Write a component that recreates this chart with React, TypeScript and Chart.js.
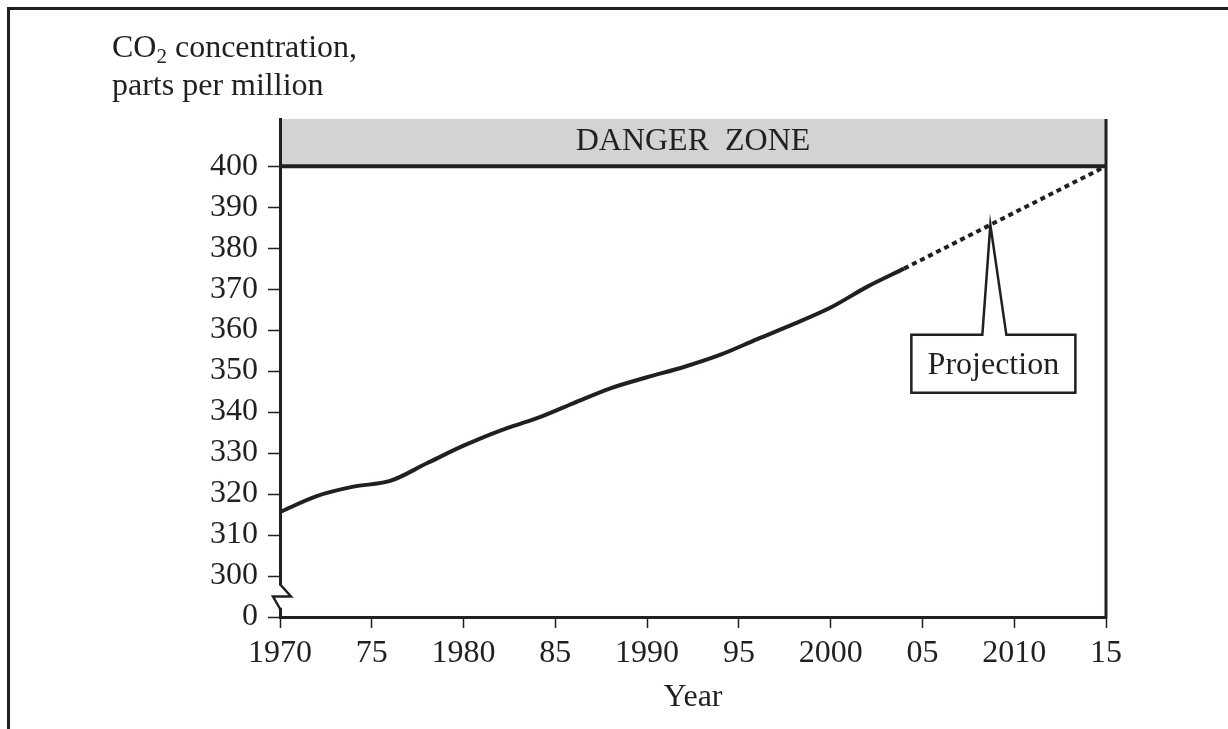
import React, { useEffect, useRef } from "react";
import { Chart, registerables } from "chart.js";

Chart.register(...registerables);

// ---------- data ----------
const years = [1970, 1972, 1974, 1976, 1978, 1980, 1982, 1984, 1986, 1988, 1990, 1992, 1994, 1996, 1998, 2000, 2002, 2004];
const co2 = [315.6, 319.5, 321.8, 323.2, 327.5, 331.8, 335.5, 338.5, 342.2, 345.8, 348.5, 351.0, 354.0, 357.8, 361.5, 365.5, 370.6, 375.0];
const projYears = [2004, 2015];
const projValues = [375.0, 400.0];

const xTickValues = [1970, 1975, 1980, 1985, 1990, 1995, 2000, 2005, 2010, 2015];
const xTickLabels = ["1970", "75", "1980", "85", "1990", "95", "2000", "05", "2010", "15"];
const yTickValues = [290, 300, 310, 320, 330, 340, 350, 360, 370, 380, 390, 400];
const yTickLabels = ["0", "300", "310", "320", "330", "340", "350", "360", "370", "380", "390", "400"];

const dangerThreshold = 400;
const calloutYear = 2008.7;

// ---------- style ----------
const INK = "#231f20";
const FONT = "'Liberation Serif', 'Times New Roman', serif";
const FS = 32;

const decorPlugin = {
  id: "decor",
  beforeDraw(chart: any) {
    const { ctx, chartArea: a, scales } = chart;
    const y400 = scales.y.getPixelForValue(dangerThreshold);
    ctx.save();
    ctx.fillStyle = "#d1d3d4";
    ctx.fillRect(a.left, a.top, a.right - a.left, y400 - a.top);
    ctx.fillStyle = INK;
    ctx.font = `${FS}px ${FONT}`;
    ctx.textAlign = "center";
    ctx.textBaseline = "alphabetic";
    ctx.fillText("DANGER  ZONE", (a.left + a.right) / 2, y400 - 16);
    ctx.restore();
  },
  afterDatasetsDraw(chart: any) {
    const { ctx, chartArea: a, scales } = chart;
    const y400 = scales.y.getPixelForValue(dangerThreshold);
    ctx.save();
    ctx.strokeStyle = INK;
    ctx.lineWidth = 4;
    ctx.beginPath();
    ctx.moveTo(a.left, y400);
    ctx.lineTo(a.right, y400);
    ctx.stroke();
    ctx.lineWidth = 3;
    ctx.beginPath();
    ctx.moveTo(a.right, a.top);
    ctx.lineTo(a.right, a.bottom + 1.5);
    ctx.stroke();
    ctx.restore();
  },
  afterDraw(chart: any) {
    const { ctx, chartArea: a, scales, width, height } = chart;
    const xs = scales.x;
    const ys = scales.y;
    ctx.save();
    // outer frame (left + top)
    ctx.strokeStyle = INK;
    ctx.lineWidth = 3;
    ctx.beginPath();
    ctx.moveTo(8.5, height);
    ctx.lineTo(8.5, 8.5);
    ctx.lineTo(width, 8.5);
    ctx.stroke();

    // axis break
    const yTop = ys.getPixelForValue(297.5) - 1;
    const yBot = ys.getPixelForValue(292.5) + 1;
    const yMid = (yTop + yBot) / 2;
    ctx.fillStyle = "#ffffff";
    ctx.fillRect(a.left - 3, yTop, 6, yBot - yTop);
    ctx.lineWidth = 2.5;
    ctx.lineJoin = "miter";
    ctx.beginPath();
    ctx.moveTo(a.left, yTop - 1);
    ctx.lineTo(a.left + 11, yMid);
    ctx.lineTo(a.left - 7, yMid);
    ctx.lineTo(a.left, yBot + 1);
    ctx.stroke();

    // y-axis label with subscript
    ctx.fillStyle = INK;
    ctx.textAlign = "left";
    ctx.textBaseline = "alphabetic";
    ctx.font = `${FS}px ${FONT}`;
    let x0 = 112;
    ctx.fillText("CO", x0, 57);
    x0 += ctx.measureText("CO").width;
    ctx.font = `21px ${FONT}`;
    ctx.fillText("2", x0, 63);
    x0 += ctx.measureText("2").width;
    ctx.font = `${FS}px ${FONT}`;
    ctx.fillText(" concentration,", x0, 57);
    ctx.fillText("parts per million", 112, 95);

    // projection callout
    const v =
      projValues[0] +
      ((calloutYear - projYears[0]) / (projYears[1] - projYears[0])) * (projValues[1] - projValues[0]);
    const px = xs.getPixelForValue(calloutYear);
    const py = ys.getPixelForValue(v);
    const bl = px - 79, br = px + 85, bt = py + 110, bb = py + 168;
    ctx.beginPath();
    ctx.moveTo(bl, bt);
    ctx.lineTo(px - 8, bt);
    ctx.lineTo(px, py);
    ctx.lineTo(px + 16, bt);
    ctx.lineTo(br, bt);
    ctx.lineTo(br, bb);
    ctx.lineTo(bl, bb);
    ctx.closePath();
    ctx.fillStyle = "#ffffff";
    ctx.fill();
    ctx.strokeStyle = INK;
    ctx.lineWidth = 2.5;
    ctx.stroke();
    ctx.fillStyle = INK;
    ctx.textAlign = "center";
    ctx.font = `${FS}px ${FONT}`;
    ctx.fillText("Projection", px + 3, py + 149);
    ctx.restore();
  },
};

export default function App() {
  const ref = useRef<HTMLCanvasElement | null>(null);

  useEffect(() => {
    document.body.style.margin = "0";
    const canvas = ref.current;
    if (!canvas) return;
    const chart = new Chart(canvas, {
      type: "line",
      data: {
        datasets: [
          {
            label: "Measured",
            data: years.map((x, i) => ({ x, y: co2[i] })),
            borderColor: INK,
            borderWidth: 4,
            pointRadius: 0,
            cubicInterpolationMode: "monotone",
            fill: false,
          },
          {
            label: "Projection",
            data: projYears.map((x, i) => ({ x, y: projValues[i] })),
            borderColor: INK,
            borderWidth: 4,
            borderDash: [5, 4],
            borderCapStyle: "butt",
            pointRadius: 0,
            fill: false,
          },
        ],
      },
      options: {
        responsive: false,
        animation: false,
        devicePixelRatio: 1,
        layout: { padding: { left: 0, top: 119, right: 122, bottom: 0 } },
        plugins: { legend: { display: false }, tooltip: { enabled: false } },
        scales: {
          x: {
            type: "linear",
            min: 1970,
            max: 2015,
            afterBuildTicks: (s: any) => {
              s.ticks = xTickValues.map((value) => ({ value }));
            },
            afterFit: (s: any) => {
              s.height = 112;
            },
            ticks: {
              callback: (value: any) => {
                const i = xTickValues.indexOf(Number(value));
                return i >= 0 ? xTickLabels[i] : "";
              },
              font: { family: FONT, size: FS },
              color: INK,
              padding: 6,
              maxRotation: 0,
              autoSkip: false,
            },
            grid: { drawOnChartArea: false, tickLength: 11, tickColor: INK, tickWidth: 1.5 },
            border: { color: INK, width: 3 },
            title: {
              display: true,
              text: "Year",
              font: { family: FONT, size: FS },
              color: INK,
              padding: { top: 0, bottom: 12 },
            },
          },
          y: {
            type: "linear",
            min: 290,
            max: 411.5,
            afterBuildTicks: (s: any) => {
              s.ticks = yTickValues.map((value) => ({ value }));
            },
            afterFit: (s: any) => {
              s.width = 280;
            },
            ticks: {
              callback: (value: any) => {
                const i = yTickValues.indexOf(Number(value));
                return i >= 0 ? yTickLabels[i] : "";
              },
              font: { family: FONT, size: FS },
              color: INK,
              padding: 10,
              autoSkip: false,
            },
            grid: { drawOnChartArea: false, tickLength: 12, tickColor: INK, tickWidth: 1.5 },
            border: { color: INK, width: 3 },
          },
        },
      },
      plugins: [decorPlugin],
    } as any);
    return () => chart.destroy();
  }, []);

  return (
    <div style={{ width: 1228, height: 729, overflow: "hidden", background: "#ffffff" }}>
      <canvas ref={ref} width={1228} height={729} style={{ display: "block", width: 1228, height: 729 }} />
    </div>
  );
}
